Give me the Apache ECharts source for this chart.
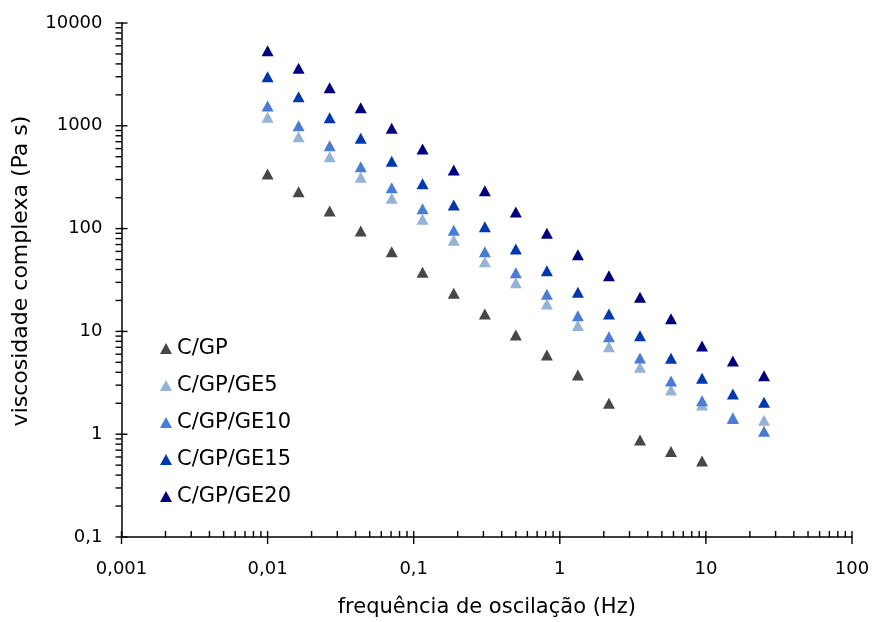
<!DOCTYPE html>
<html>
<head>
<meta charset="utf-8">
<script src="https://cdn.jsdelivr.net/npm/echarts@6/dist/echarts.min.js"></script>
<style>
  html, body { margin: 0; padding: 0; background: #ffffff; }
  #chart { width: 873px; height: 622px; }
</style>
</head>
<body>
<div id="chart"></div>
<script>
// Oscillation frequency (Hz)
const freq = [0.01, 0.0163, 0.0266, 0.0434, 0.0707, 0.115, 0.188, 0.307, 0.500,
              0.816, 1.33, 2.17, 3.54, 5.77, 9.41, 15.3, 25.0];

// Complex viscosity (Pa s) for each formulation
const cgp   = [340, 228, 148, 94.8, 59.6, 37.6, 23.5, 14.8, 9.23, 5.9, 3.77, 2.0, 0.88, 0.68, 0.55];
const ge5   = [1209, 783, 500, 315, 197, 123, 76.9, 47.6, 29.8, 18.5, 11.4, 7.10, 4.48, 2.69, 1.92, 1.45, 1.37];
const ge10  = [1558, 1002, 640, 400, 250, 156, 96.3, 59.6, 37.2, 23.0, 14.2, 8.88, 5.51, 3.29, 2.12, 1.42, 1.07];
const ge15  = [3003, 1920, 1199, 756, 451, 273, 170, 104, 63.3, 38.9, 24.0, 14.8, 9.08, 5.47, 3.50, 2.46, 2.04];
const ge20  = [5377, 3625, 2348, 1500, 945, 595, 372, 234, 145, 90, 55.7, 34.8, 21.5, 13.3, 7.21, 5.15, 3.71];

const seriesNames = ['C/GP', 'C/GP/GE5', 'C/GP/GE10', 'C/GP/GE15', 'C/GP/GE20'];
const seriesData  = [cgp, ge5, ge10, ge15, ge20];
const seriesColors = ['#474747', '#95b3d7', '#4a7bd6', '#0039ad', '#00007f'];

// Axis decades
const xDecades = [0.001, 0.01, 0.1, 1, 10, 100];
const yDecades = [0.1, 1, 10, 100, 1000, 10000];

const X_MIN = xDecades[0], X_MAX = xDecades[xDecades.length - 1];
const Y_MIN = yDecades[0], Y_MAX = yDecades[yDecades.length - 1];

// Major + minor (2..9) tick values for a log axis
function logTicks(decades) {
  const out = [];
  decades.forEach((d, i) => {
    out.push([d, 1]);
    if (i < decades.length - 1) {
      for (let m = 2; m <= 9; m++) out.push([+(m * d).toPrecision(4), 0]);
    }
  });
  return out;
}
const xTickData = logTicks(xDecades).map(t => [t[0], Y_MIN, t[1]]);
const yTickData = logTicks(yDecades).map(t => [X_MIN, t[0], t[1]]);

const fmt = v => String(+(+v).toPrecision(6)).replace('.', ',');
const FONT = 'DejaVu Sans';

const series = seriesNames.map((name, i) => ({
  name: name,
  type: 'scatter',
  symbol: 'triangle',
  symbolSize: [12, 11],
  itemStyle: { color: seriesColors[i], opacity: 1 },
  data: seriesData[i].map((v, k) => [freq[k], v]),
  z: 3 + i
}));

// Axis tick marks: majors cross the axis line, minors sit on one side
series.push({
  type: 'custom',
  silent: true,
  clip: false,
  z: 10,
  data: xTickData,
  encode: { x: 0, y: 1 },
  renderItem: function (params, api) {
    const p = api.coord([api.value(0), api.value(1)]);
    const major = api.value(2) === 1;
    return {
      type: 'line',
      shape: { x1: p[0], y1: p[1] - 6, x2: p[0], y2: p[1] + (major ? 7 : 0) },
      style: { stroke: '#000', lineWidth: 1.4 }
    };
  }
});
series.push({
  type: 'custom',
  silent: true,
  clip: false,
  z: 10,
  data: yTickData,
  encode: { x: 0, y: 1 },
  renderItem: function (params, api) {
    const p = api.coord([api.value(0), api.value(1)]);
    const major = api.value(2) === 1;
    return {
      type: 'line',
      shape: { x1: p[0] - 6, y1: p[1], x2: p[0] + (major ? 6 : 0), y2: p[1] },
      style: { stroke: '#000', lineWidth: 1.4 }
    };
  }
});

const chart = echarts.init(document.getElementById('chart'), null, { renderer: 'canvas' });
chart.setOption({
  backgroundColor: '#ffffff',
  animation: false,
  textStyle: { fontFamily: FONT },
  grid: { left: 121.5, right: 21, top: 23, bottom: 85, containLabel: false, outerBoundsMode: 'none' },
  legend: {
    data: seriesNames,
    orient: 'vertical',
    left: 155,
    top: 333,
    itemGap: 16,
    itemWidth: 12,
    itemHeight: 11,
    textStyle: { fontFamily: FONT, fontSize: 21, color: '#000' }
  },
  xAxis: {
    type: 'log',
    logBase: 10,
    min: X_MIN,
    max: X_MAX,
    name: 'frequência de oscilação (Hz)',
    nameLocation: 'middle',
    nameGap: 60,
    nameTextStyle: { fontFamily: FONT, fontSize: 21, color: '#000' },
    axisLine: { lineStyle: { color: '#000', width: 1.5 } },
    axisTick: { show: false },
    minorTick: { show: false },
    splitLine: { show: false },
    axisLabel: { fontFamily: FONT, fontSize: 18, color: '#000', margin: 23, formatter: fmt }
  },
  yAxis: {
    type: 'log',
    logBase: 10,
    min: Y_MIN,
    max: Y_MAX,
    name: 'viscosidade complexa (Pa s)',
    nameLocation: 'middle',
    nameGap: 89,
    nameRotate: 90,
    nameTextStyle: { fontFamily: FONT, fontSize: 22, color: '#000', padding: [0, 0, 0, 18] },
    axisLine: { lineStyle: { color: '#000', width: 1.5 } },
    axisTick: { show: false },
    minorTick: { show: false },
    splitLine: { show: false },
    axisLabel: { fontFamily: FONT, fontSize: 18, color: '#000', margin: 19, formatter: fmt }
  },
  series: series
});
</script>
</body>
</html>
